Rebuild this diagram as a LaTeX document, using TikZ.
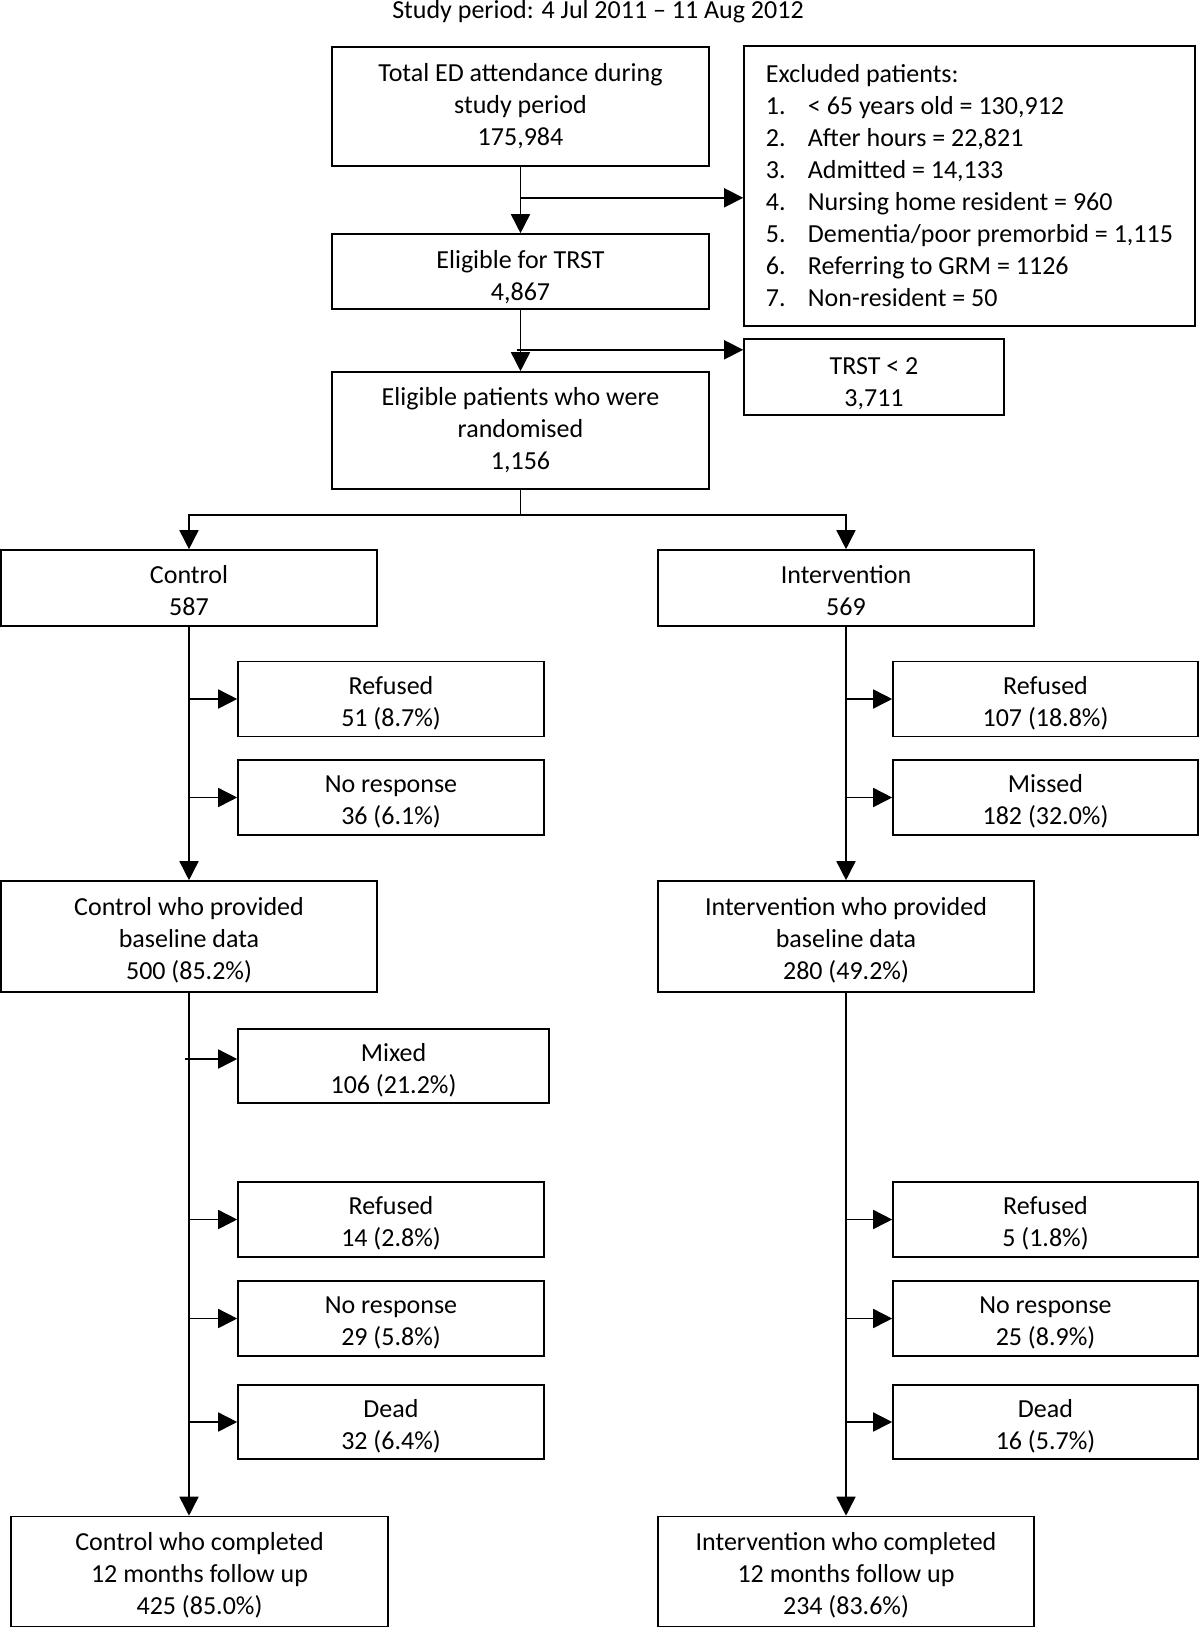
\documentclass[tikz,border=0pt]{standalone}
\usepackage{fontspec}
\setmainfont{Carlito}
\usetikzlibrary{arrows.meta}
\newcommand\tp{\rule{0pt}{29pt}}
\newcommand\tpb{\rule{0pt}{33pt}}
\begin{document}
\begin{tikzpicture}[x=1pt,y=1pt,
  txt/.style={font=\fontsize{26}{32}\selectfont},
  plainbox/.style={draw, line width=1.6pt, inner sep=0pt, align=center, txt},
  box/.style={plainbox, execute at end node={\rule[-7pt]{0pt}{7pt}}},
  wide/.style={minimum width=377pt},
  side/.style={minimum width=306pt, minimum height=75pt},
  arr/.style={line width=1.6pt, -{Triangle[length=19pt,width=19pt]}},
  thinln/.style={line width=1pt}]
\useasboundingbox (0,0) rectangle (1200,-1628);
\node[txt, anchor=base] (title) at (598,-18) {Study period: 4 Jul 2011 – 11 Aug 2012};
\node[plainbox, wide, minimum height=119pt] (total) at (520.5,-106.5) {Total ED attendance during\\study period\\175,984};
\node[plainbox, minimum width=451pt, minimum height=280pt, align=left] (excl) at (969.5,-186) {Excluded patients:\\
\makebox[42pt][l]{1.}< 65 years old = 130,912\\
\makebox[42pt][l]{2.}After hours = 22,821\\
\makebox[42pt][l]{3.}Admitted = 14,133\\
\makebox[42pt][l]{4.}Nursing home resident = 960\\
\makebox[42pt][l]{5.}Dementia/poor premorbid = 1,115\\
\makebox[42pt][l]{6.}Referring to GRM = 1126\\
\makebox[42pt][l]{7.}Non-resident = 50};
\node[box, wide, minimum height=75pt] (elig) at (520.5,-271.5) {\tpb Eligible for TRST\\4,867};
\node[box, minimum width=260pt, minimum height=76pt] (trst) at (874,-377) {\tpb TRST < 2\\3,711};
\node[plainbox, wide, minimum height=117pt] (rand) at (520.5,-430.5) {Eligible patients who were\\randomised\\1,156};
\node[box, minimum width=376pt, minimum height=76pt] (ctrl) at (189,-588) {\tp Control\\587};
\node[box, minimum width=376pt, minimum height=76pt] (intv) at (846,-588) {\tp Intervention\\569};
\node[box, side] (cref) at (391,-699) {\tp Refused\\51 (8.7\%)};
\node[box, side] (cnr) at (391,-797.5) {\tp No response\\36 (6.1\%)};
\node[box, side, minimum width=305pt] (iref) at (1045.5,-699) {\tp Refused\\107 (18.8\%)};
\node[box, side, minimum width=305pt] (imis) at (1045.5,-797.5) {\tp Missed\\182 (32.0\%)};
\node[box, minimum width=376pt, minimum height=111pt] (cbase) at (189,-936.5) {\tp Control who provided\\baseline data\\500 (85.2\%)};
\node[box, minimum width=376pt, minimum height=111pt] (ibase) at (846,-936.5) {\tp Intervention who provided\\baseline data\\280 (49.2\%)};
\node[box, side, minimum width=311pt, minimum height=74pt] (mixed) at (393.5,-1066) {\tp Mixed\\106 (21.2\%)};
\node[box, side] (cref2) at (391,-1219.5) {\tp Refused\\14 (2.8\%)};
\node[box, side] (cnr2) at (391,-1318.5) {\tp No response\\29 (5.8\%)};
\node[box, side, minimum height=74pt] (cdead) at (391,-1422) {\tp Dead\\32 (6.4\%)};
\node[box, side, minimum width=305pt] (iref2) at (1045.5,-1219.5) {\tp Refused\\5 (1.8\%)};
\node[box, side, minimum width=305pt] (inr2) at (1045.5,-1318.5) {\tp No response\\25 (8.9\%)};
\node[box, side, minimum width=305pt, minimum height=74pt] (idead) at (1045.5,-1422) {\tp Dead\\16 (5.7\%)};
\node[box, wide, minimum height=110pt] (ccomp) at (199.5,-1571.5) {\tp Control who completed\\12 months follow up\\425 (85.0\%)};
\node[box, minimum width=376pt, minimum height=110pt] (icomp) at (846,-1571.5) {\tp Intervention who completed\\12 months follow up\\234 (83.6\%)};
% top connectors
\draw[arr] (total.south) -- (elig.north);
\coordinate (b1) at ([yshift=-31pt]total.south);
\draw[arr] (b1) -- (b1 -| excl.west);
\draw[arr] (elig.south) -- (rand.north);
\coordinate (b2) at ([yshift=-40pt,xshift=-4pt]elig.south);
\draw[arr] (b2) -- (b2 -| trst.west);
\coordinate (s) at ([yshift=-25pt]rand.south);
\draw[thinln] (rand.south) -- (s);
\draw[arr] (s) -| (ctrl.north);
\draw[arr] (s) -| (intv.north);
% control arm
\draw[arr] (ctrl.south) -- (ctrl.south |- cbase.north);
\draw[arr] (ctrl.south |- cref.west) -- (cref.west);
\draw[arr] (ctrl.south |- cnr.west) -- (cnr.west);
\draw[arr] (cbase.south) -- (cbase.south |- ccomp.north);
\coordinate (m) at ([yshift=7pt]mixed.west);
\coordinate (cm) at ([xshift=-4pt]cbase.south);
\draw[arr] (cm |- m) -- (m);
\draw[arr] (cbase.south |- cref2.west) -- (cref2.west);
\draw[arr] (cbase.south |- cnr2.west) -- (cnr2.west);
\draw[arr] (cbase.south |- cdead.west) -- (cdead.west);
% intervention arm
\draw[arr] (intv.south) -- (ibase.north);
\draw[arr] (intv.south |- iref.west) -- (iref.west);
\draw[arr] (intv.south |- imis.west) -- (imis.west);
\draw[arr] (ibase.south) -- (icomp.north);
\draw[arr] (ibase.south |- iref2.west) -- (iref2.west);
\draw[arr] (ibase.south |- inr2.west) -- (inr2.west);
\draw[arr] (ibase.south |- idead.west) -- (idead.west);
\end{tikzpicture}
\end{document}
